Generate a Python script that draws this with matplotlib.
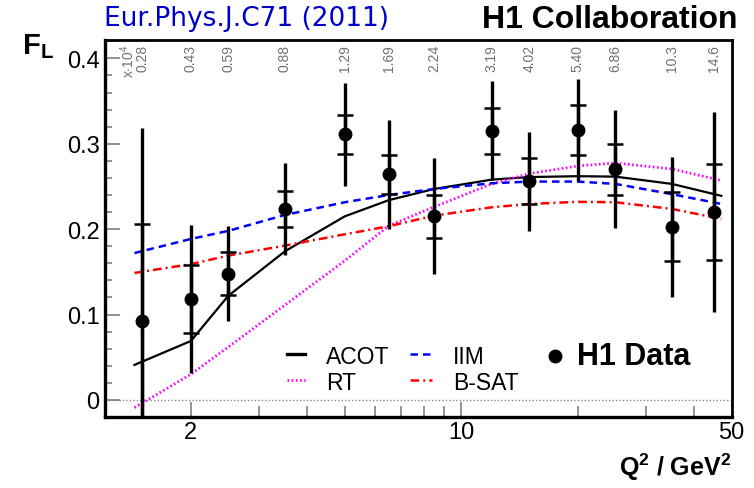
import matplotlib
matplotlib.use("Agg")
import matplotlib.pyplot as plt
from matplotlib.ticker import FixedLocator, NullFormatter, MultipleLocator
import numpy as np

plt.rcParams['font.family'] = ['Liberation Sans', 'DejaVu Sans']
plt.rcParams['mathtext.fontset'] = 'custom'
plt.rcParams['mathtext.rm'] = 'Liberation Sans'
plt.rcParams['mathtext.bf'] = 'Liberation Sans:bold'
plt.rcParams['mathtext.it'] = 'Liberation Sans:italic'

# ---- data ----
q2 = [1.5, 2, 2.5, 3.5, 5, 6.5, 8.5, 12, 15, 20, 25, 35, 45]
fl = [0.092, 0.118, 0.148, 0.224, 0.311, 0.264, 0.215, 0.315, 0.256, 0.316, 0.270, 0.203, 0.220]
err_stat = [0.114, 0.040, 0.025, 0.021, 0.023, 0.023, 0.025, 0.027, 0.027, 0.029, 0.030, 0.040, 0.056]
err_tot = [0.226, 0.087, 0.056, 0.054, 0.060, 0.064, 0.068, 0.058, 0.058, 0.060, 0.069, 0.082, 0.117]
x_labels = ['0.28', '0.43', '0.59', '0.88', '1.29', '1.69', '2.24', '3.19', '4.02', '5.40', '6.86', '10.3', '14.6']

q2_model = [1.43, 2, 2.5, 3.5, 5, 6.5, 8.5, 12, 15, 20, 25, 35, 47]
acot = [0.041, 0.069, 0.122, 0.174, 0.215, 0.234, 0.247, 0.258, 0.261, 0.262, 0.2615, 0.253, 0.239]
rt = [-0.009, 0.030, 0.062, 0.111, 0.163, 0.204, 0.226, 0.253, 0.265, 0.274, 0.2775, 0.2705, 0.257]
iim = [0.172, 0.1885, 0.198, 0.2166, 0.2315, 0.240, 0.247, 0.2537, 0.2557, 0.2557, 0.253, 0.241, 0.2295]
bsat = [0.1487, 0.159, 0.169, 0.1807, 0.194, 0.2034, 0.2158, 0.2256, 0.2295, 0.232, 0.2315, 0.2237, 0.212]

x_major = [2, 10, 50]
x_major_labels = ['2', '10', '50']
x_minor = [3, 4, 5, 6, 7, 8, 9, 20, 30, 40]

fig = plt.figure(figsize=(7.54, 4.89), dpi=100)
ax = fig.add_axes([105/754, 1-418/489, 626.7/754, 377/489])
ax.set_xscale('log')
ax.set_xlim(1.2, 50)
ax.set_ylim(-0.02, 0.4215)

# zero line
ax.axhline(0, color='#888888', ls=(0, (1, 1.5)), lw=1.0, zorder=1)

# model curves
ax.plot(q2_model, acot, color='black', lw=1.6, zorder=3)
ax.plot(q2_model, rt, color='#ff00ff', lw=2.0, ls=(0, (0.6, 0.9)), zorder=3)
ax.plot(q2_model, iim, color='#0000ff', lw=1.8, ls=(0, (3, 2)), zorder=3)
ax.plot(q2_model, bsat, color='#ff0000', lw=1.8, ls=(0, (3.5, 1.6, 0.8, 1.6)), zorder=3)

# data
ax.errorbar(q2, fl, yerr=err_tot, fmt='o', color='black', ms=9, elinewidth=2.4,
            capsize=0, zorder=5)
ax.errorbar(q2, fl, yerr=err_stat, fmt='none', ecolor='black', elinewidth=2.4,
            capsize=6, capthick=1.8, zorder=5)

# top x labels
for q, lab in zip(q2, x_labels):
    ax.text(q, 0.99, lab, rotation=90, ha='center', va='top', fontsize=10,
            color='#707070', transform=ax.get_xaxis_transform())
ax.text(1.37, 0.99, r'x$\cdot$10$^4$', rotation=90, ha='center', va='top', fontsize=10,
        color='#707070', transform=ax.get_xaxis_transform())

# ticks
ax.xaxis.set_major_locator(FixedLocator(x_major))
ax.set_xticklabels(x_major_labels)
ax.xaxis.set_minor_locator(FixedLocator(x_minor))
ax.xaxis.set_minor_formatter(NullFormatter())
ax.yaxis.set_minor_locator(MultipleLocator(0.02))
ax.set_yticks([0, 0.1, 0.2, 0.3, 0.4])
ax.set_yticklabels(['0', '0.1', '0.2', '0.3', '0.4'])
ax.tick_params(which='both', direction='in', color='#808080', labelsize=17, top=False, right=False)
ax.tick_params(axis='x', which='major', length=11, width=1.2, pad=3)
ax.tick_params(axis='x', which='minor', length=8, width=1.2)
ax.tick_params(axis='y', which='major', length=11, width=1.2, pad=4)
ax.tick_params(axis='y', which='minor', length=5, width=1.2)

for s in ['left', 'bottom']:
    ax.spines[s].set_linewidth(2.4)
for s in ['top', 'right']:
    ax.spines[s].set_linewidth(2.0)

# legend (manual)
def ax_frac_x(px):
    return (px - 105) / 626.7

def ax_frac_y(py):
    return (418 - py) / 377

leg_fs = 16.5
ax.plot([ax_frac_x(287), ax_frac_x(305)], [ax_frac_y(355)] * 2, transform=ax.transAxes,
        color='black', lw=2.4)
ax.text(ax_frac_x(326), ax_frac_y(357), 'ACOT', transform=ax.transAxes, va='center', ha='left',
        fontsize=leg_fs)
ax.plot([ax_frac_x(287), ax_frac_x(305)], [ax_frac_y(381)] * 2, transform=ax.transAxes,
        color='#ff00ff', lw=2.0, ls=(0, (0.6, 0.9)))
ax.text(ax_frac_x(326), ax_frac_y(384), 'RT', transform=ax.transAxes, va='center', ha='left',
        fontsize=leg_fs)
ax.plot([ax_frac_x(410), ax_frac_x(432)], [ax_frac_y(355)] * 2, transform=ax.transAxes,
        color='#0000ff', lw=1.8, ls=(0, (3, 2)))
ax.text(ax_frac_x(453), ax_frac_y(357), 'IIM', transform=ax.transAxes, va='center', ha='left',
        fontsize=leg_fs)
ax.plot([ax_frac_x(410), ax_frac_x(432)], [ax_frac_y(381)] * 2, transform=ax.transAxes,
        color='#ff0000', lw=1.8, ls=(0, (3.5, 1.6, 0.8, 1.6)))
ax.text(ax_frac_x(453), ax_frac_y(384), 'B-SAT', transform=ax.transAxes, va='center', ha='left',
        fontsize=leg_fs)
ax.plot([ax_frac_x(555)], [ax_frac_y(357)], 'o', color='black', ms=9, transform=ax.transAxes)
ax.text(ax_frac_x(577), ax_frac_y(357), 'H1 Data', transform=ax.transAxes, va='center', ha='left',
        fontsize=22, fontweight='bold')

# titles
fig.text(104/754, 1-19/489, 'Eur.Phys.J.C71 (2011)', color='#0000cc', fontsize=19,
         family='DejaVu Sans', ha='left', va='center')
fig.text(738/754, 1-20/489, 'H1 Collaboration', color='black', fontsize=23,
         fontweight='bold', ha='right', va='center')
fig.text(22/754, 1-47/489, r'F$_{\mathbf{L}}$', fontsize=21, fontweight='bold', ha='left', va='center')
fig.text(731/754, 1-467/489, r'Q$^{\mathbf{2}}$ / GeV$^{\mathbf{2}}$', fontsize=18,
         fontweight='bold', ha='right', va='center')

fig.savefig('out.png', dpi=100)
